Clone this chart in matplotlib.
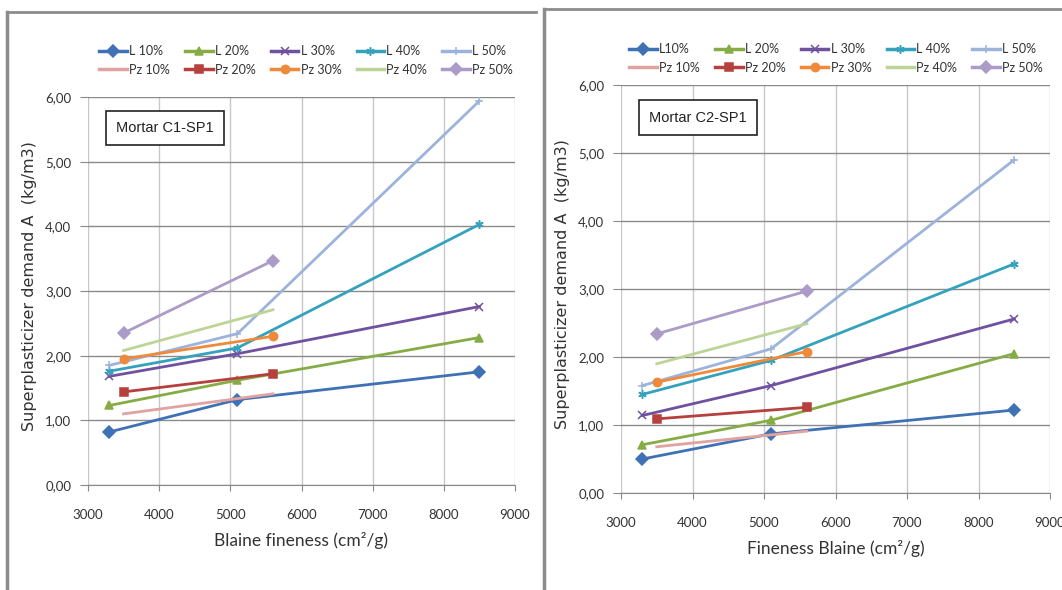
import matplotlib
matplotlib.use("Agg")
import matplotlib.pyplot as plt
from matplotlib.lines import Line2D
from matplotlib.ticker import FuncFormatter

# fineness values (cm2/g)
X_L  = [3300, 5100, 8500]
X_PZ = [3500, 5600]

# Mortar C1-SP1
C1_L10  = [0.82, 1.32, 1.75]
C1_L20  = [1.23, 1.62, 2.28]
C1_L30  = [1.68, 2.03, 2.76]
C1_L40  = [1.76, 2.12, 4.03]
C1_L50  = [1.85, 2.34, 5.94]
C1_PZ10 = [1.10, 1.41]
C1_PZ20 = [1.44, 1.72]
C1_PZ30 = [1.95, 2.30]
C1_PZ40 = [2.08, 2.71]
C1_PZ50 = [2.35, 3.47]

# Mortar C2-SP1
C2_L10  = [0.50, 0.87, 1.22]
C2_L20  = [0.71, 1.07, 2.05]
C2_L30  = [1.14, 1.58, 2.56]
C2_L40  = [1.45, 1.95, 3.37]
C2_L50  = [1.58, 2.12, 4.90]
C2_PZ10 = [0.68, 0.91]
C2_PZ20 = [1.09, 1.26]
C2_PZ30 = [1.63, 2.08]
C2_PZ40 = [1.90, 2.49]
C2_PZ50 = [2.34, 2.97]

L_NAMES_C1  = ["L 10%", "L 20%", "L 30%", "L 40%", "L 50%"]
L_NAMES_C2  = ["L10%", "L 20%", "L 30%", "L 40%", "L 50%"]
PZ_NAMES    = ["Pz 10%", "Pz 20%", "Pz 30%", "Pz 40%", "Pz 50%"]

L_COLORS  = ["#3f71b5", "#86ad45", "#7051a0", "#35a2bd", "#9db3dc"]
L_MARKERS = ["D", "^", "x", (6, 2, 0), "+"]
PZ_COLORS  = ["#e0a3a2", "#b5403d", "#ef8a3a", "#bcd596", "#ab9bc8"]
PZ_MARKERS = [None, "s", "o", None, "D"]

W, H = 1062, 590
fig = plt.figure(figsize=(W / 100, H / 100), dpi=100)

TXT = "#333333"
SANS = ["Lato", "DejaVu Sans"]


def fx(px):
    return px / W


def fy(py):
    return 1 - py / H


def panel(rect_px, l_series, pz_series, l_names, label, xlabel, leg_rows, leg_x, ylab_x):
    x0, x1, y0, y1 = rect_px
    ax = fig.add_axes([fx(x0), fy(y1), fx(x1) - fx(x0), fy(y0) - fy(y1)])

    for ys, c, m in zip(l_series, L_COLORS, L_MARKERS):
        ax.plot(X_L, ys, color=c, lw=2.0, marker=m, ms=6, mew=1.1, zorder=3)
    for ys, c, m in zip(pz_series, PZ_COLORS, PZ_MARKERS):
        ax.plot(X_PZ, ys, color=c, lw=2.0, marker=m, ms=6, mew=1.1, zorder=3)

    ax.set_xlim(3000, 9000)
    ax.set_ylim(0, 6)
    ax.set_xticks(range(3000, 9001, 1000))
    ax.set_yticks(range(0, 7))
    ax.yaxis.set_major_formatter(FuncFormatter(lambda v, p: f"{v:.2f}".replace(".", ",")))

    ax.grid(axis="x", color="#c8c8c8", lw=1.0)
    ax.grid(axis="y", color="#8a8a8a", lw=1.0)
    ax.set_axisbelow(True)
    for s in ["top", "right", "left"]:
        ax.spines[s].set_visible(False)
    ax.spines["bottom"].set_color("#8a8a8a")
    ax.tick_params(axis="both", colors="#8a8a8a", labelcolor=TXT, labelsize=9.5, length=4)
    ax.tick_params(axis="y", length=6, pad=6)
    ax.tick_params(axis="x", pad=13)
    for t in ax.get_xticklabels() + ax.get_yticklabels():
        t.set_family(SANS)

    ax.set_xlabel(xlabel, fontsize=12.5, color=TXT, family=SANS, labelpad=8)

    fig.text(fx(ylab_x), fy((y0 + y1) / 2 - 5), "Superplasticizer demand A  (kg/m3)",
             rotation=90, ha="center", va="center", fontsize=11.5, color=TXT,
             family="DejaVu Sans")

    ax.text(0.065, 0.92, label, transform=ax.transAxes, fontsize=10.5, color="#222222",
            family=["Liberation Sans Narrow", "Liberation Sans"], va="center", ha="left",
            bbox=dict(boxstyle="square,pad=0.7", fc="white", ec="#222222", lw=1.2))

    handles, names = [], []
    for i in range(5):
        handles.append(Line2D([], [], color=L_COLORS[i], lw=2.5, marker=L_MARKERS[i], ms=6, mew=1.1))
        names.append(l_names[i])
        handles.append(Line2D([], [], color=PZ_COLORS[i], lw=2.5, marker=PZ_MARKERS[i], ms=6, mew=1.1))
        names.append(PZ_NAMES[i])
    fig.legend(handles, names, ncol=5, loc="upper left", frameon=False,
               bbox_to_anchor=(fx(leg_x), fy(leg_rows)), prop=dict(family=SANS, size=9),
               handlelength=2.2, handletextpad=0.2, columnspacing=1.2,
               labelspacing=0.5, labelcolor=TXT)
    return ax


panel((88, 515, 97, 485),
      [C1_L10, C1_L20, C1_L30, C1_L40, C1_L50],
      [C1_PZ10, C1_PZ20, C1_PZ30, C1_PZ40, C1_PZ50],
      L_NAMES_C1, "Mortar C1-SP1", "Blaine fineness (cm\u00b2/g)", 34, 88, 30)

panel((621, 1050, 85, 493),
      [C2_L10, C2_L20, C2_L30, C2_L40, C2_L50],
      [C2_PZ10, C2_PZ20, C2_PZ30, C2_PZ40, C2_PZ50],
      L_NAMES_C2, "Mortar C2-SP1", "Fineness Blaine (cm\u00b2/g)", 32, 618, 563)

# panel borders
fig.add_artist(Line2D([fx(7), fx(7)], [fy(12), 0], color="#8c8c8c", lw=2.5))
fig.add_artist(Line2D([fx(7), fx(536)], [fy(12), fy(12)], color="#8c8c8c", lw=2.0))
fig.add_artist(Line2D([fx(544), fx(544)], [fy(9), 0], color="#8c8c8c", lw=2.5))
fig.add_artist(Line2D([fx(544), 1], [fy(9), fy(9)], color="#8c8c8c", lw=2.0))

fig.savefig("out.png", dpi=100)
